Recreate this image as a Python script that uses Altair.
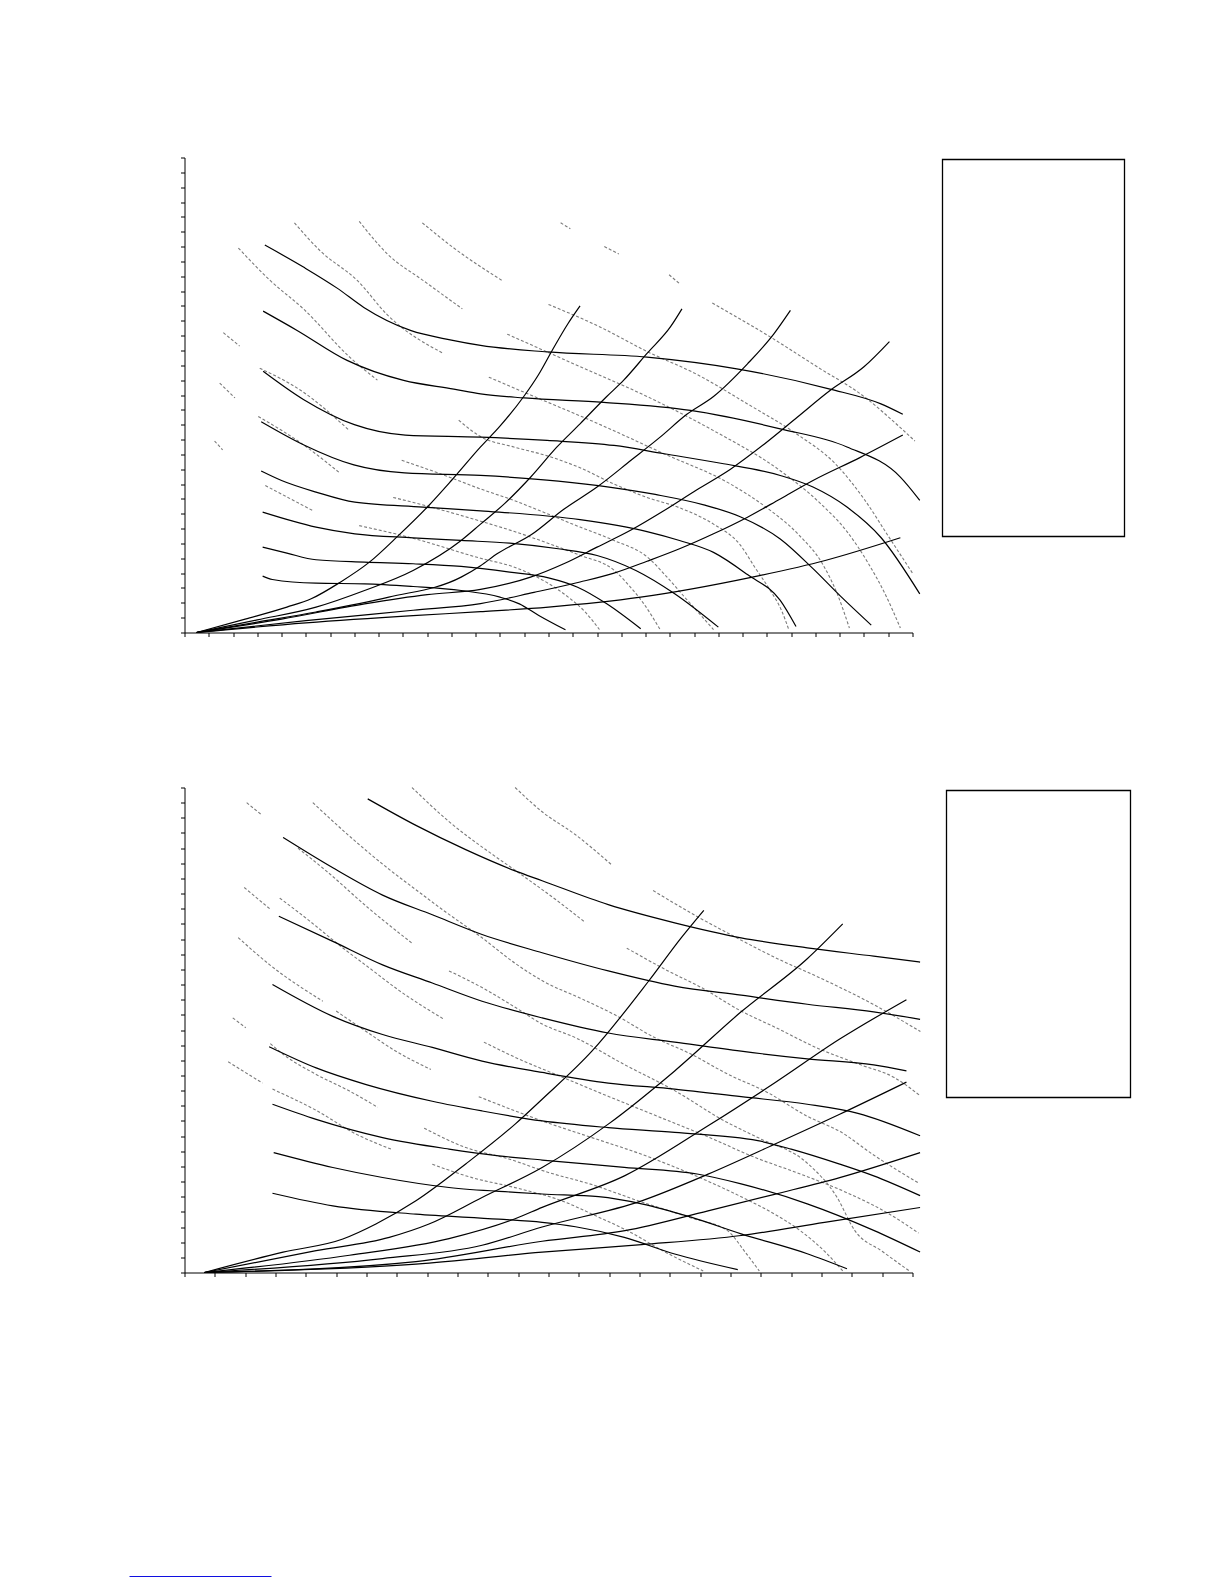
import altair as alt
import pandas as pd

# ---------------- tick positions ----------------
P1_X_TICKS = list(range(0, 31))
P1_Y_TICKS = list(range(0, 33))
P2_X_TICKS = list(range(0, 25))
P2_Y_TICKS = list(range(0, 33))

# ---------------- panel 1 : solid fan curves ----------------
P1_FAN_A = [(3.31, 26.1), (4.92, 24.6), (6.29, 23.2), (7.39, 21.9), (9.31, 20.35), (11.0, 19.7), (12.2, 19.34),
            (14.94, 18.9), (19.06, 18.55), (22.76, 17.76), (26.6, 16.4), (28.7, 15.4), (29.6, 14.7)]
P1_FAN_B = [(3.24, 21.65), (4.64, 20.35), (6.7, 18.33), (9.03, 16.98), (11.1, 16.4), (12.2, 16.08), (14.0, 15.8),
            (17.28, 15.5), (20.85, 14.96), (24.55, 13.72), (27.3, 12.5), (29.5, 10.47), (30.3, 8.9)]
P1_FAN_C = [(3.24, 17.6), (4.9, 15.7), (7.0, 14.0), (9.1, 13.3), (12.2, 13.16), (14.94, 12.94), (17.7, 12.6),
            (19.76, 12.04), (22.1, 11.4), (24.55, 10.58), (25.9, 9.8), (27.3, 8.45), (28.7, 6.4), (30.3, 2.6)]
P1_FAN_D = [(3.16, 14.2), (4.9, 12.65), (6.98, 11.29), (9.07, 10.75), (12.2, 10.58), (15.4, 10.2), (19.4, 9.3),
            (21.4, 8.6), (22.9, 7.8), (24.55, 6.3), (25.9, 4.3), (27.0, 2.5), (28.3, 0.5)]
P1_FAN_E = [(3.16, 10.88), (4.0, 10.24), (5.42, 9.46), (7.02, 8.78), (9.82, 8.45), (12.2, 8.2), (16.3, 7.6),
            (19.06, 6.8), (20.4, 6.2), (21.8, 5.4), (23.2, 3.9), (24.55, 2.16), (25.2, 0.4)]
P1_FAN_F = [(3.22, 8.11), (5.42, 7.10), (7.02, 6.65), (9.42, 6.38), (11.4, 6.20), (13.4, 6.02), (15.4, 5.64),
            (17.0, 5.19), (18.6, 4.18), (20.2, 2.61), (22.0, 0.36)]
P1_FAN_G = [(3.22, 5.75), (4.22, 5.35), (5.42, 4.90), (7.42, 4.74), (9.42, 4.63), (11.4, 4.45), (13.4, 4.07),
            (15.0, 3.68), (16.2, 3.05), (17.4, 1.93), (18.8, 0.25)]
P1_FAN_H = [(3.22, 3.80), (3.62, 3.57), (5.42, 3.32), (7.42, 3.28), (9.42, 3.10), (11.4, 2.83), (13.0, 2.38),
            (13.8, 1.93), (14.6, 1.15), (15.7, 0.18)]

# ---------------- panel 1 : system curves ----------------
P1_SYS_1 = [(0.5, 0), (2.5, 0.9), (4.22, 1.71), (5.22, 2.27), (6.42, 3.39), (7.62, 4.74), (8.82, 6.54), (10.0, 8.44),
            (11.0, 10.24), (12.2, 12.5), (13.0, 13.9), (13.98, 15.9), (14.6, 17.4), (15.15, 19.0), (15.8, 20.8), (16.3, 22.0)]
P1_SYS_2 = [(0.5, 0), (3.0, 0.85), (5.42, 1.71), (7.42, 2.83), (9.42, 4.18), (11.4, 6.2), (12.2, 7.3), (13.2, 8.7),
            (14.26, 10.46), (15.35, 12.5), (16.3, 14.06), (17.4, 15.9), (18.1, 17.0), (19.06, 18.8), (20.03, 20.6), (20.5, 21.8)]
P1_SYS_3 = [(0.5, 0), (3.0, 0.7), (5.42, 1.38), (8.42, 2.38), (11.4, 3.73), (12.2, 4.5), (12.88, 5.3), (14.3, 6.6),
            (15.63, 8.3), (17.0, 9.8), (18.4, 11.6), (19.6, 13.16), (20.7, 14.7), (21.8, 15.9), (23.2, 18.1),
            (24.28, 20.1), (24.97, 21.7)]
P1_SYS_4 = [(0.5, 0), (4.0, 0.9), (7.42, 1.93), (10.0, 2.55), (12.2, 2.9), (14.26, 3.73), (15.63, 4.63), (17.0, 5.75),
            (18.4, 6.9), (19.75, 8.2), (21.1, 9.6), (22.5, 11.0), (23.9, 12.7), (25.25, 14.5), (26.6, 16.3),
            (28.0, 17.9), (29.05, 19.6)]
P1_SYS_5 = [(0.5, 0), (5.0, 0.8), (9.42, 1.5), (12.2, 1.95), (14.4, 2.7), (16.3, 3.4), (17.7, 4.0), (19.06, 4.8),
            (20.4, 5.64), (21.8, 6.65), (23.2, 7.77), (24.55, 9.0), (25.9, 10.24), (27.85, 11.8), (29.6, 13.3)]
P1_SYS_6 = [(0.5, 0), (5.0, 0.65), (9.42, 1.14), (12.2, 1.4), (15.0, 1.71), (18.8, 2.38), (23.4, 3.73),
            (26.4, 4.85), (29.5, 6.38)]

# ---------------- panel 1 : grey dashed lines ----------------
P1_DASH_1A = [(9.8, 27.6), (11.1, 25.9), (13.1, 23.7)]
P1_DASH_1B = [(15.0, 22.1), (17.1, 20.6), (19.1, 18.9), (21.1, 17.4), (23.2, 15.4), (25.2, 13.4), (26.8, 11.4),
              (28.0, 9.0), (29.0, 6.5), (30.0, 4.0)]
P1_DASH_2A = [(7.2, 27.7), (8.36, 25.5), (9.85, 23.7), (11.45, 21.8)]
P1_DASH_2B = [(13.3, 20.1), (15.9, 18.2), (19.06, 15.9), (21.8, 13.6), (24.55, 10.9), (26.2, 8.7), (27.3, 6.8),
              (28.2, 4.6), (28.9, 2.5), (29.5, 0.3)]
P1_DASH_3A = [(4.53, 27.6), (5.6, 25.7), (7.13, 23.7), (8.36, 21.4), (10.67, 18.8)]
P1_DASH_3B = [(12.54, 17.2), (14.26, 16.0), (17.0, 14.1), (19.75, 12.05), (22.5, 10.0), (24.0, 8.4), (25.3, 6.6),
              (26.3, 4.6), (26.9, 2.6), (27.4, 0.3)]
P1_DASH_4 = [(11.3, 14.3), (12.2, 13.2), (13.57, 12.5), (14.95, 11.9), (16.3, 11.1), (17.7, 10.0), (19.06, 9.1),
             (20.4, 8.4), (21.8, 7.3), (22.9, 5.9), (23.5, 4.4), (24.15, 2.8), (24.6, 1.5), (24.9, 0.2)]
P1_DASH_5 = [(8.95, 11.6), (10.7, 10.6), (12.2, 9.67), (13.57, 8.9), (14.95, 8.0), (16.3, 7.1), (17.7, 6.2),
             (19.06, 5.1), (19.9, 3.7), (20.6, 2.4), (21.2, 1.3), (21.8, 0.2)]
P1_DASH_6 = [(8.6, 9.1), (10.5, 8.3), (12.2, 7.5), (13.6, 6.8), (15.0, 6.0), (16.3, 5.2), (17.7, 4.2), (18.3, 3.2),
             (18.9, 2.0), (19.6, 0.2)]
P1_DASH_7 = [(7.2, 7.2), (9.3, 6.4), (12.2, 5.0), (13.6, 4.4), (15.0, 3.3), (15.8, 2.4), (16.5, 1.4), (17.1, 0.2)]
P1_DASH_8 = [(2.22, 25.9), (3.54, 23.7), (4.9, 21.8), (6.84, 18.5), (7.95, 17.0)]
P1_DASH_9A = [(15.5, 27.6), (15.9, 27.2)]
P1_DASH_9B = [(17.3, 26.0), (17.9, 25.5)]
P1_DASH_9C = [(19.97, 24.1), (20.4, 23.5)]
P1_DASH_9D = [(21.75, 22.2), (24.15, 19.9), (26.07, 17.9), (28.0, 15.9), (29.5, 13.8), (30.1, 12.9)]
P1_DASH_S1 = [(1.6, 20.2), (2.27, 19.3)]
P1_DASH_S2 = [(3.1, 17.8), (4.8, 16.3), (6.8, 13.6)]
P1_DASH_S3 = [(1.45, 16.8), (2.08, 15.8)]
P1_DASH_S4 = [(3.04, 14.55), (4.9, 12.65), (6.36, 10.8)]
P1_DASH_S5 = [(1.24, 12.9), (1.57, 12.3)]
P1_DASH_S6 = [(3.33, 9.9), (5.3, 8.2)]

# ---------------- panel 2 : solid fan curves ----------------
P2_FAN_1 = [(6.04, 31.25), (7.63, 29.5), (9.27, 27.9), (10.9, 26.5), (11.79, 25.85), (13.97, 24.27), (16.16, 23.07),
            (18.35, 22.08), (20.53, 21.42), (22.72, 20.87), (24.25, 20.48)]
P2_FAN_2 = [(3.25, 28.7), (4.89, 26.7), (6.53, 24.9), (8.17, 23.6), (9.81, 22.3), (11.79, 21.1), (13.97, 19.9),
            (16.16, 18.9), (18.35, 18.3), (20.53, 17.7), (22.72, 17.2), (24.25, 16.7)]
P2_FAN_3 = [(3.11, 23.5), (4.89, 21.85), (6.53, 20.3), (8.17, 19.1), (9.81, 17.9), (11.79, 16.8), (13.97, 15.8),
            (16.16, 15.2), (18.35, 14.6), (20.53, 14.1), (22.72, 13.7), (23.8, 13.3)]
P2_FAN_4 = [(2.9, 19.0), (4.89, 16.9), (6.53, 15.7), (8.17, 14.85), (9.81, 13.95), (11.79, 13.2), (13.97, 12.5),
            (16.16, 12.1), (18.35, 11.6), (20.53, 11.1), (22.2, 10.5), (24.25, 9.02)]
P2_FAN_5 = [(2.79, 14.9), (4.34, 13.5), (5.99, 12.4), (8.17, 11.3), (9.81, 10.66), (11.79, 10.0), (13.97, 9.56),
            (16.16, 9.24), (18.9, 8.7), (20.0, 8.14), (21.6, 7.15), (22.7, 6.39), (24.25, 5.07)]
P2_FAN_6 = [(2.9, 11.1), (4.34, 10.1), (6.53, 8.9), (8.72, 8.14), (10.36, 7.7), (11.79, 7.42), (14.5, 6.94),
            (16.9, 6.5), (18.35, 5.85), (20.53, 4.53), (22.72, 2.78), (24.25, 1.35)]
P2_FAN_7 = [(2.94, 7.91), (4.89, 6.93), (6.53, 6.27), (8.72, 5.61), (10.9, 5.29), (11.79, 5.18), (13.65, 5.0),
            (15.07, 4.53), (16.7, 3.65), (18.35, 2.55), (20.53, 1.24), (21.84, 0.25)]
P2_FAN_8 = [(2.9, 5.23), (4.89, 4.4), (7.63, 3.85), (10.36, 3.52), (11.79, 3.31), (12.89, 3.02), (14.5, 2.32),
            (16.16, 1.22), (18.24, 0.19)]

# ---------------- panel 2 : system curves ----------------
P2_SYS_1 = [(0.65, 0), (3.25, 1.34), (5.22, 2.21), (6.31, 3.2), (7.63, 4.73), (9.27, 7.16), (10.9, 9.79),
            (11.79, 11.43), (13.43, 14.6), (15.29, 19.2), (16.38, 22.1), (17.12, 23.9)]
P2_SYS_2 = [(0.65, 0), (4.34, 1.44), (6.75, 2.32), (8.06, 3.2), (9.81, 4.95), (11.79, 6.93), (13.97, 9.79),
            (16.16, 13.3), (18.35, 17.2), (20.53, 20.7), (21.7, 23.0)]
P2_SYS_3 = [(0.65, 0), (5.44, 1.14), (8.72, 2.24), (10.9, 3.55), (11.79, 4.3), (14.52, 6.39), (17.26, 9.68),
            (19.45, 12.5), (21.6, 15.4), (23.8, 18.0)]
P2_SYS_4 = [(0.65, 0), (6.53, 0.92), (9.81, 1.8), (11.79, 3.0), (15.07, 4.73), (17.26, 6.49), (19.45, 8.46),
            (21.6, 10.44), (23.8, 12.56)]
P2_SYS_5 = [(0.65, 0), (7.63, 0.72), (11.79, 2.06), (14.52, 2.76), (17.26, 4.07), (19.45, 5.16), (21.6, 6.26),
            (24.25, 7.91)]
P2_SYS_6 = [(0.65, 0), (7.63, 0.55), (11.79, 1.34), (15.07, 1.84), (18.35, 2.44), (21.1, 3.31), (24.25, 4.29)]

# ---------------- panel 2 : grey dashed lines ----------------
P2_DASH_1 = [(2.05, 31.0), (2.54, 30.2)]
P2_DASH_2 = [(4.23, 31.0), (5.49, 28.7), (6.81, 26.5), (7.6, 25.3), (8.6, 23.8), (9.8, 22.1), (10.9, 20.4),
             (11.84, 19.2), (13.05, 18.1), (14.19, 17.0), (15.5, 15.5), (16.71, 14.4), (17.9, 13.1), (19.2, 11.9),
             (20.54, 10.3), (21.63, 9.28), (22.72, 7.75), (24.2, 5.9)]
P2_DASH_3 = [(3.74, 28.0), (4.67, 26.5), (6.09, 24.0), (7.52, 21.7)]
P2_DASH_4 = [(7.5, 32.0), (8.72, 29.75), (10.14, 27.6), (11.0, 26.4), (12.44, 24.3), (13.21, 23.1)]
P2_DASH_5 = [(10.9, 32.0), (11.79, 30.4), (12.88, 28.9), (14.08, 26.9)]
P2_DASH_6 = [(15.45, 25.2), (16.8, 23.6), (18.0, 22.3), (19.45, 20.8), (21.1, 19.3), (22.7, 17.7), (24.26, 15.9)]
P2_DASH_7 = [(1.97, 25.4), (2.81, 24.0)]
P2_DASH_8 = [(3.14, 24.7), (4.12, 23.2), (5.1, 21.6), (6.09, 20.1), (7.08, 18.6), (8.56, 16.7)]
P2_DASH_9 = [(1.77, 22.1), (2.81, 20.3), (4.56, 17.9)]
P2_DASH_10 = [(8.72, 19.9), (9.81, 18.8), (10.9, 17.5), (11.79, 16.4), (12.88, 15.5), (14.52, 13.7), (16.16, 12.0),
              (17.8, 10.0), (18.9, 8.9), (20.54, 7.2), (21.5, 5.0), (22.1, 2.76), (23.0, 1.4), (23.9, 0.1)]
P2_DASH_11 = [(14.58, 21.4), (15.94, 19.9), (17.04, 18.8), (18.35, 17.25), (19.45, 16.2), (20.87, 14.8),
              (22.3, 13.7), (23.4, 12.86), (24.26, 11.65)]
P2_DASH_13 = [(1.59, 16.8), (2.02, 16.15)]
P2_DASH_14 = [(2.83, 15.1), (3.25, 14.4), (4.34, 13.07), (5.44, 11.97), (6.37, 10.9)]
P2_DASH_15 = [(5.0, 17.25), (5.99, 15.9), (6.97, 14.6), (8.12, 13.4)]
P2_DASH_16 = [(1.44, 13.9), (2.57, 12.5)]
P2_DASH_17 = [(2.9, 12.1), (4.34, 10.7), (5.66, 9.13), (6.81, 8.14)]
P2_DASH_18 = [(9.87, 15.2), (10.9, 14.2), (12.44, 12.9), (14.0, 11.6), (15.6, 10.3), (17.2, 9.0), (18.8, 7.6),
              (20.3, 6.5), (21.8, 5.3), (23.2, 3.9), (24.2, 2.6)]
P2_DASH_19 = [(8.17, 7.14), (9.48, 6.26), (10.9, 5.6), (12.44, 4.73), (13.6, 3.7), (14.6, 2.76), (15.8, 1.4),
              (17.1, 0.1)]
P2_DASH_20 = [(7.9, 9.52), (9.27, 8.25), (10.69, 7.49), (12.0, 6.6), (13.43, 5.8), (15.0, 4.7), (16.7, 3.6),
              (17.9, 2.76), (18.5, 1.3), (18.95, 0.1)]
P2_DASH_21 = [(9.7, 11.6), (11.79, 10.0), (13.43, 8.9), (15.07, 7.8), (16.71, 6.5), (18.35, 5.0), (19.5, 3.8),
              (20.3, 2.76), (21.2, 1.2), (21.7, 0.1)]

P1_SOLID = {"A": P1_FAN_A, "B": P1_FAN_B, "C": P1_FAN_C, "D": P1_FAN_D, "E": P1_FAN_E, "F": P1_FAN_F,
            "G": P1_FAN_G, "H": P1_FAN_H, "S1": P1_SYS_1, "S2": P1_SYS_2, "S3": P1_SYS_3, "S4": P1_SYS_4,
            "S5": P1_SYS_5, "S6": P1_SYS_6}
P1_DASHED = {"1a": P1_DASH_1A, "1b": P1_DASH_1B, "2a": P1_DASH_2A, "2b": P1_DASH_2B, "3a": P1_DASH_3A,
             "3b": P1_DASH_3B, "4": P1_DASH_4, "5": P1_DASH_5, "6": P1_DASH_6, "7": P1_DASH_7, "8": P1_DASH_8,
             "9a": P1_DASH_9A, "9b": P1_DASH_9B, "9c": P1_DASH_9C, "9d": P1_DASH_9D, "s1": P1_DASH_S1,
             "s2": P1_DASH_S2, "s3": P1_DASH_S3, "s4": P1_DASH_S4, "s5": P1_DASH_S5, "s6": P1_DASH_S6}
P2_SOLID = {"1": P2_FAN_1, "2": P2_FAN_2, "3": P2_FAN_3, "4": P2_FAN_4, "5": P2_FAN_5, "6": P2_FAN_6,
            "7": P2_FAN_7, "8": P2_FAN_8, "S1": P2_SYS_1, "S2": P2_SYS_2, "S3": P2_SYS_3, "S4": P2_SYS_4,
            "S5": P2_SYS_5, "S6": P2_SYS_6}
P2_DASHED = {"1": P2_DASH_1, "2": P2_DASH_2, "3": P2_DASH_3, "4": P2_DASH_4, "5": P2_DASH_5, "6": P2_DASH_6,
             "7": P2_DASH_7, "8": P2_DASH_8, "9": P2_DASH_9, "10": P2_DASH_10, "11": P2_DASH_11,
             "13": P2_DASH_13, "14": P2_DASH_14, "15": P2_DASH_15, "16": P2_DASH_16, "17": P2_DASH_17,
             "18": P2_DASH_18, "19": P2_DASH_19, "20": P2_DASH_20, "21": P2_DASH_21}


def rows(solid, dashed):
    out = []
    for kind, group in (("solid", solid), ("dash", dashed)):
        for name, pts in group.items():
            for i, (x, y) in enumerate(pts):
                out.append({"curve": kind + name, "kind": kind, "order": i, "x": x, "y": y})
    return pd.DataFrame(out)


def panel(df, xmax, xticks, yticks, w, h, extras):
    ax = dict(labels=False, grid=False, title=None, tickSize=4, domainColor="black", tickColor="black",
              domainWidth=1, tickWidth=1)
    x = alt.X("x:Q", scale=alt.Scale(domain=[0, xmax], nice=False, zero=False), axis=alt.Axis(values=xticks, **ax))
    y = alt.Y("y:Q", scale=alt.Scale(domain=[0, 32], nice=False, zero=False), axis=alt.Axis(values=yticks, **ax))
    base = alt.Chart(df)
    dash = base.transform_filter(alt.datum.kind == "dash").mark_line(
        color="#7a7a7a", strokeWidth=1.1, strokeDash=[3, 2], interpolate="monotone"
    ).encode(x=x, y=y, detail="curve:N", order="order:Q")
    solid = base.transform_filter(alt.datum.kind == "solid").mark_line(
        color="black", strokeWidth=1.2, interpolate="monotone"
    ).encode(x=x, y=y, detail="curve:N", order="order:Q")
    return alt.layer(dash, solid, *extras).properties(width=w, height=h)


one = pd.DataFrame({"v": [0]})
box1 = alt.Chart(one).mark_rect(fill="white", fillOpacity=0, stroke="black", strokeWidth=1.3).encode(
    x=alt.value(758), x2=alt.value(940), y=alt.value(2), y2=alt.value(379))
spacer1 = alt.Chart(one).mark_rule(color="white", strokeWidth=1).encode(
    x=alt.value(-55), x2=alt.value(-45), y=alt.value(200))
box2 = alt.Chart(one).mark_rect(fill="white", fillOpacity=0, stroke="black", strokeWidth=1.3).encode(
    x=alt.value(762), x2=alt.value(946), y=alt.value(3), y2=alt.value(310))
link = alt.Chart(one).mark_rule(color="#1010e0", strokeWidth=1).encode(
    x=alt.value(-55), x2=alt.value(87), y=alt.value(789))

p1 = panel(rows(P1_SOLID, P1_DASHED), 30, P1_X_TICKS, P1_Y_TICKS, 728, 475, [box1, spacer1])
p2 = panel(rows(P2_SOLID, P2_DASHED), 24, P2_X_TICKS, P2_Y_TICKS, 728, 485, [box2, link])

chart = alt.vconcat(p1, p2, spacing=147).properties(
    padding={"left": 120.5, "top": 148.5, "right": 5, "bottom": 2}
).configure_view(stroke=None)

chart.save("out.html", embed_options={"renderer": "svg", "actions": False})
